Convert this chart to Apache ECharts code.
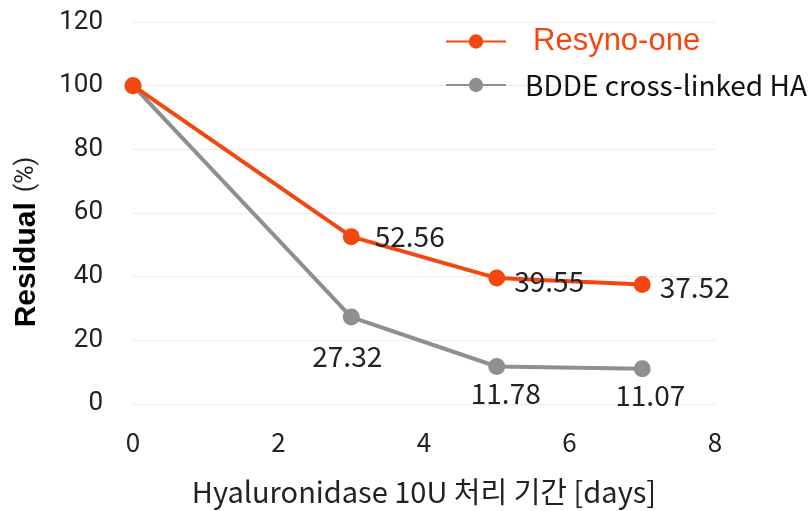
<!DOCTYPE html>
<html>
<head>
<meta charset="utf-8">
<script src="https://cdn.jsdelivr.net/npm/echarts@6/dist/echarts.min.js"></script>
<style>
  html, body { margin: 0; padding: 0; background: #fff; }
  #main { width: 811px; height: 511px; }
</style>
</head>
<body>
<div id="main"></div>
<script>
  // days of hyaluronidase treatment
  var days = [0, 3, 5, 7];
  var resynoOne = [100, 52.56, 39.55, 37.52];
  var bddeHA = [100, 27.32, 11.78, 11.07];
  var xTicks = [0, 2, 4, 6, 8];
  var yTicks = [0, 20, 40, 60, 80, 100, 120];

  var orange = '#f2480f';
  var grey = '#8f8f8f';
  var labelFont = '"Noto Sans CJK KR", "Noto Sans", sans-serif';

  function points(vals, labelFor) {
    return vals.map(function (v, i) {
      return { value: [days[i], v], label: labelFor(i) };
    });
  }

  var chart = echarts.init(document.getElementById('main'));
  chart.setOption({
    animation: false,
    grid: { left: 133, right: 96, top: 22, bottom: 106 },
    legend: {
      orient: 'vertical',
      left: 440,
      top: 21,
      itemWidth: 60,
      itemHeight: 18,
      itemGap: 14,
      data: [
        { name: 'Resyno-one', textStyle: { color: orange, fontSize: 31, fontFamily: 'Liberation Sans, Arial', padding: [0, 0, 0, 22] } },
        { name: 'BDDE cross-linked HA', textStyle: { color: '#111', fontSize: 28, fontFamily: labelFont, padding: [0, 0, 0, 14] } }
      ]
    },
    xAxis: {
      type: 'value',
      min: xTicks[0],
      max: xTicks[xTicks.length - 1],
      interval: 2,
      axisLine: { show: false },
      axisTick: { show: false },
      splitLine: { show: false },
      axisLabel: { fontSize: 26, color: '#222', margin: 25, fontFamily: labelFont },
      name: 'Hyaluronidase 10U 처리 기간 [days]',
      nameLocation: 'middle',
      nameGap: 73,
      nameTextStyle: { fontSize: 29, color: '#222', fontFamily: labelFont }
    },
    yAxis: {
      type: 'value',
      min: yTicks[0],
      max: yTicks[yTicks.length - 1],
      interval: 20,
      axisLine: { show: false },
      axisTick: { show: false },
      splitLine: { lineStyle: { color: '#ececec', width: 1 } },
      axisLabel: { fontSize: 26, color: '#222', margin: 30, fontFamily: 'Roboto, sans-serif' },
      name: '{b|Residual}   {n|(%)}',
      nameLocation: 'middle',
      nameRotate: 90,
      nameGap: 91,
      nameTextStyle: {
        padding: [0, 58, 0, 0],
        rich: {
          b: { fontSize: 30, fontWeight: 'bold', color: '#000', fontFamily: 'Liberation Sans, Arial' },
          n: { fontSize: 25, color: '#222', fontFamily: 'Roboto, sans-serif' }
        }
      }
    },
    series: [
      {
        name: 'Resyno-one',
        type: 'line',
        symbol: 'circle',
        symbolSize: 17,
        color: orange,
        lineStyle: { width: 4, color: orange },
        label: { show: true, position: 'right', distance: 9, offset: [0, 3], fontSize: 28, color: '#222', fontFamily: labelFont },
        data: points(resynoOne, function (i) {
          if (i === 0) return { show: false };
          if (i === 1) return { offset: [6, 0] };
          return {};
        }),
        z: 3
      },
      {
        name: 'BDDE cross-linked HA',
        type: 'line',
        symbol: 'circle',
        symbolSize: 17,
        color: grey,
        lineStyle: { width: 4, color: grey },
        label: { show: true, position: 'bottom', distance: 4, fontSize: 28, color: '#222', fontFamily: labelFont },
        data: points(bddeHA, function (i) {
          if (i === 0) return { show: false };
          if (i === 1) return { offset: [-4, 13] };
          if (i === 2) return { offset: [9, 0] };
          if (i === 3) return { offset: [8, 0] };
          return {};
        }),
        z: 2
      }
    ]
  });
</script>
</body>
</html>
